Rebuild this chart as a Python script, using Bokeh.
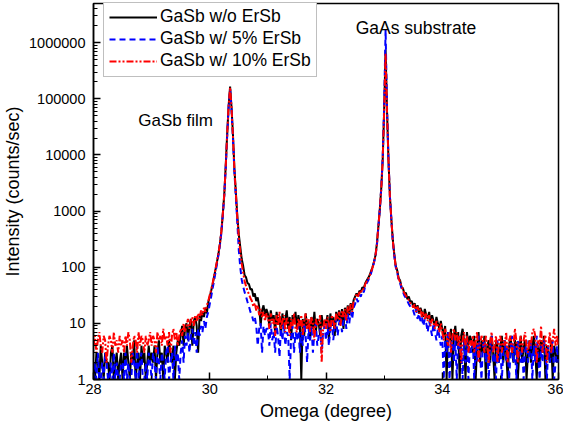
import numpy as np
from bokeh.plotting import figure
from bokeh.models import Legend, LegendItem, NumeralTickFormatter, FixedTicker, LogTicker, Label
from bokeh.embed import file_html
from bokeh.resources import INLINE

# Omega scan grid (degree)
omega_start = 28.0
omega_step = 0.025

# Intensity (counts/sec), 20 points per 0.5 degree row
gasb_wo = [
    2, 1, 3, 2, 1, 4, 2, 1, 3, 2, 2, 1, 3, 4, 1, 2, 3, 1, 2, 3,            # 28.0
    1, 3, 2, 4, 2, 1, 3, 2, 5, 1, 2, 3, 1, 4, 2, 3, 1, 2, 4, 2,            # 28.5
    3, 2, 4, 1, 3, 5, 2, 3, 1, 4, 3, 2, 5, 3, 2, 4, 1, 3, 5, 4,            # 29.0
    6, 9, 4, 8, 10, 5, 9, 12, 4, 11, 13, 9, 3, 14, 11, 16, 13, 19, 15, 24,  # 29.5
    30, 38, 50, 68, 92, 125, 175, 260, 430, 900, 2000, 6500, 24000, 75000, 165000, 70000, 22000, 5500, 2100, 800,  # 30.0
    380, 230, 140, 105, 72, 66, 52, 50, 40, 41, 30, 34, 25, 29, 20, 9, 17, 21, 14, 18,   # 30.5
    15, 9, 17, 11, 14, 7, 16, 10, 13, 6, 15, 9, 12, 17, 8, 13, 5, 14, 10, 16,             # 31.0
    8, 14, 10, 1, 12, 6, 15, 9, 11, 5, 13, 8, 16, 7, 12, 10, 6, 14, 9, 11,                # 31.5
    10, 14, 5, 15, 9, 13, 6, 16, 11, 17, 10, 18, 8, 19, 13, 21, 14, 23, 17, 26,           # 32.0
    30, 34, 31, 38, 36, 44, 42, 52, 58, 64, 72, 85, 100, 125, 160, 260, 520, 1050, 2500, 8000,  # 32.5
    60000, 750000, 60000, 8000, 1800, 700, 300, 170, 105, 88, 64, 58, 44, 42, 33, 35, 27, 30, 24, 25,  # 33.0
    20, 23, 17, 21, 15, 19, 16, 13, 18, 14, 12, 16, 10, 14, 11, 9, 13, 10, 8, 11,         # 33.5
    8, 6, 9, 1, 7, 5, 8, 1, 6, 9, 4, 7, 1, 6, 8, 5, 1, 7, 4, 6,                           # 34.0
    5, 3, 6, 1, 4, 7, 2, 5, 3, 6, 1, 4, 5, 2, 6, 3, 1, 5, 4, 2,                           # 34.5
    4, 6, 2, 5, 3, 1, 4, 6, 3, 2, 5, 4, 1, 3, 6, 2, 4, 5, 1, 3,                           # 35.0
    5, 2, 4, 6, 3, 1, 4, 2, 5, 3, 6, 1, 4, 3, 2, 5, 1, 4, 3, 2,                           # 35.5
    3,                                                                                    # 36.0
]

gasb_5 = [
    1, 2, 1, 3, 1, 1, 2, 1, 3, 2, 1, 1, 2, 1, 3, 1, 2, 1, 1, 2,
    2, 1, 3, 1, 2, 1, 1, 3, 2, 1, 4, 1, 2, 3, 1, 1, 2, 1, 3, 2,
    1, 3, 2, 1, 4, 2, 1, 3, 2, 1, 3, 4, 1, 2, 3, 1, 4, 2, 3, 1,
    3, 5, 2, 6, 4, 7, 3, 6, 8, 4, 7, 3, 8, 6, 9, 7, 11, 8, 13, 16,
    22, 30, 42, 58, 82, 115, 165, 245, 410, 850, 1900, 6000, 22000, 72000, 150000, 62000, 19000, 4800, 1700, 600,
    200, 100, 60, 45, 36, 30, 24, 20, 16, 14, 11, 13, 9, 4, 8, 10, 3, 9, 6, 8,
    8, 4, 10, 5, 7, 3, 9, 6, 2.5, 8, 5, 10, 4, 7, 6, 1, 6, 9, 3, 7,
    5, 9, 3, 7, 4, 10, 6, 2, 8, 5, 9, 3, 7, 10, 4, 6, 8, 3, 7, 9,
    5, 10, 4, 8, 11, 5, 9, 12, 6, 10, 13, 7, 11, 14, 8, 15, 10, 16, 12, 19,
    22, 28, 24, 32, 30, 38, 36, 46, 52, 58, 66, 78, 95, 120, 155, 240, 500, 1050, 2500, 9000,
    70000, 1700000, 70000, 8500, 1800, 680, 290, 160, 100, 80, 60, 52, 42, 36, 31, 28, 25, 22, 20, 18,
    17, 14, 18, 12, 15, 11, 13, 9, 12, 10, 7, 11, 8, 6, 10, 7, 5, 8, 6, 4,
    6, 1, 5, 3, 7, 1, 4, 6, 2, 5, 1, 6, 3, 4, 1, 5, 2, 6, 1, 4,
    3, 5, 1, 4, 2, 6, 3, 1, 4, 5, 2, 3, 1, 4, 6, 2, 3, 1, 5, 2,
    4, 1, 3, 5, 2, 4, 1, 3, 6, 2, 4, 1, 5, 3, 2, 4, 1, 3, 5, 2,
    3, 5, 1, 4, 2, 6, 3, 1, 4, 2, 5, 3, 1, 4, 2, 3, 5, 1, 2, 4,
    2,
]

gasb_10 = [
    4, 6, 3, 5, 7, 4, 3, 6, 5, 2, 4, 6, 5, 3, 7, 4, 5, 3, 6, 4,
    5, 3, 6, 4, 7, 5, 2, 4, 6, 5, 3, 7, 4, 6, 5, 3, 6, 4, 5, 7,
    4, 6, 5, 3, 7, 5, 6, 4, 8, 5, 6, 4, 7, 3, 6, 8, 5, 7, 4, 6,
    8, 6, 10, 7, 9, 12, 8, 11, 13, 9, 14, 11, 15, 12, 17, 14, 19, 16, 21, 25,
    32, 40, 52, 70, 95, 128, 178, 265, 440, 900, 2000, 6300, 23000, 76000, 160000, 68000, 21000, 5200, 2000, 750,
    340, 190, 115, 80, 56, 46, 38, 33, 28, 25, 20, 23, 17, 21, 14, 18, 13, 16, 11, 15,
    13, 8, 15, 10, 12, 6, 14, 9, 16, 8, 11, 14, 7, 13, 10, 6, 12, 9, 15, 8,
    7, 12, 9, 14, 6, 11, 15, 8, 12, 7, 13, 10, 5, 12, 9, 11, 14, 2, 8, 12,
    8, 13, 10, 7, 14, 11, 8, 15, 12, 16, 9, 17, 13, 18, 11, 20, 15, 22, 16, 25,
    28, 33, 30, 36, 34, 42, 40, 50, 56, 62, 70, 82, 98, 122, 158, 250, 520, 1050, 2400, 7800,
    58000, 650000, 58000, 7800, 1750, 690, 295, 165, 102, 84, 62, 55, 45, 40, 34, 31, 28, 26, 23, 22,
    19, 22, 16, 20, 15, 18, 13, 16, 12, 15, 11, 14, 9, 12, 10, 8, 11, 9, 7, 10,
    7, 5, 8, 6, 4, 7, 3, 6, 8, 5, 7, 4, 6, 2, 5, 7, 4, 6, 3, 5,
    4, 6, 3, 5, 7, 2, 4, 6, 5, 3, 6, 4, 2, 5, 7, 3, 4, 6, 2, 5,
    6, 3, 5, 4, 7, 2, 5, 6, 3, 4, 8, 5, 2, 4, 6, 3, 5, 7, 4, 3,
    5, 4, 7, 8, 6, 2, 5, 4, 9, 3, 5, 6, 2, 4, 7, 3, 5, 8, 4, 6,
    4,
]

series_names = ["GaSb w/o ErSb", "GaSb w/ 5% ErSb", "GaSb w/ 10% ErSb"]
series_colors = ["#000000", "#0000FF", "#FF0000"]
series_dashes = ["solid", "6 4", "7 2 2 2 2 2"]

x_ticks = [28, 30, 32, 34, 36]
x_minor = [29, 31, 33, 35]

FONT = "Liberation Sans"

p = figure(width=563, height=427, y_axis_type="log",
           x_range=(28, 36), y_range=(1, 5e6),
           output_backend="svg", toolbar_location=None,
           min_border_left=92, min_border_right=5,
           min_border_top=3, min_border_bottom=48)
p.background_fill_color = "white"
p.border_fill_color = "white"
p.outline_line_color = "black"
p.outline_line_width = 1.5
p.grid.visible = False

renderers = []
for ys, c, d in zip([gasb_wo, gasb_5, gasb_10], series_colors, series_dashes):
    xs = omega_start + omega_step * np.arange(len(ys))
    r = p.line(xs, np.array(ys, dtype=float), line_color=c, line_width=2, line_dash=d)
    renderers.append(r)

p.xaxis.ticker = FixedTicker(ticks=x_ticks, minor_ticks=x_minor)
p.yaxis.ticker = LogTicker(num_minor_ticks=10)
p.yaxis.formatter = NumeralTickFormatter(format="0")

for ax in (p.xaxis[0], p.yaxis[0]):
    ax.major_tick_in = 7
    ax.major_tick_out = 0
    ax.minor_tick_in = 4
    ax.minor_tick_out = 0
    ax.axis_line_width = 1.5
    ax.major_tick_line_width = 1.5
    ax.minor_tick_line_width = 1
    ax.major_label_text_font = FONT
    ax.major_label_text_font_size = "14.5px"
    ax.major_label_text_color = "black"
    ax.axis_label_text_font = FONT
    ax.axis_label_text_font_style = "normal"
    ax.axis_label_text_font_size = "18px"
    ax.axis_label_text_color = "black"

p.xaxis.axis_label = "Omega (degree)"
p.yaxis.axis_label = "Intensity (counts/sec)"
p.xaxis.major_label_standoff = 4
p.xaxis.axis_label_standoff = 4
p.yaxis.major_label_standoff = 8
p.yaxis.axis_label_standoff = 3

legend = Legend(items=[LegendItem(label=n, renderers=[r]) for n, r in zip(series_names, renderers)],
                location=(10, 302))
legend.label_text_font = FONT
legend.label_text_font_size = "17.5px"
legend.label_text_color = "black"
legend.border_line_color = "#808080"
legend.border_line_width = 1
legend.padding = 5
legend.spacing = 1
legend.label_height = 20
legend.glyph_height = 20
legend.glyph_width = 48
legend.label_standoff = 3
legend.margin = 0
legend.background_fill_alpha = 1
p.add_layout(legend, "center")

p.add_layout(Label(x=28.77, y=41000, text="GaSb film", text_font=FONT, text_color="black",
                   text_font_size="17px", text_baseline="alphabetic"))
p.add_layout(Label(x=32.51, y=1.85e6, text="GaAs substrate", text_font=FONT, text_color="black",
                   text_font_size="17.5px", text_baseline="alphabetic"))

open("out.html", "w").write(file_html(p, INLINE))
